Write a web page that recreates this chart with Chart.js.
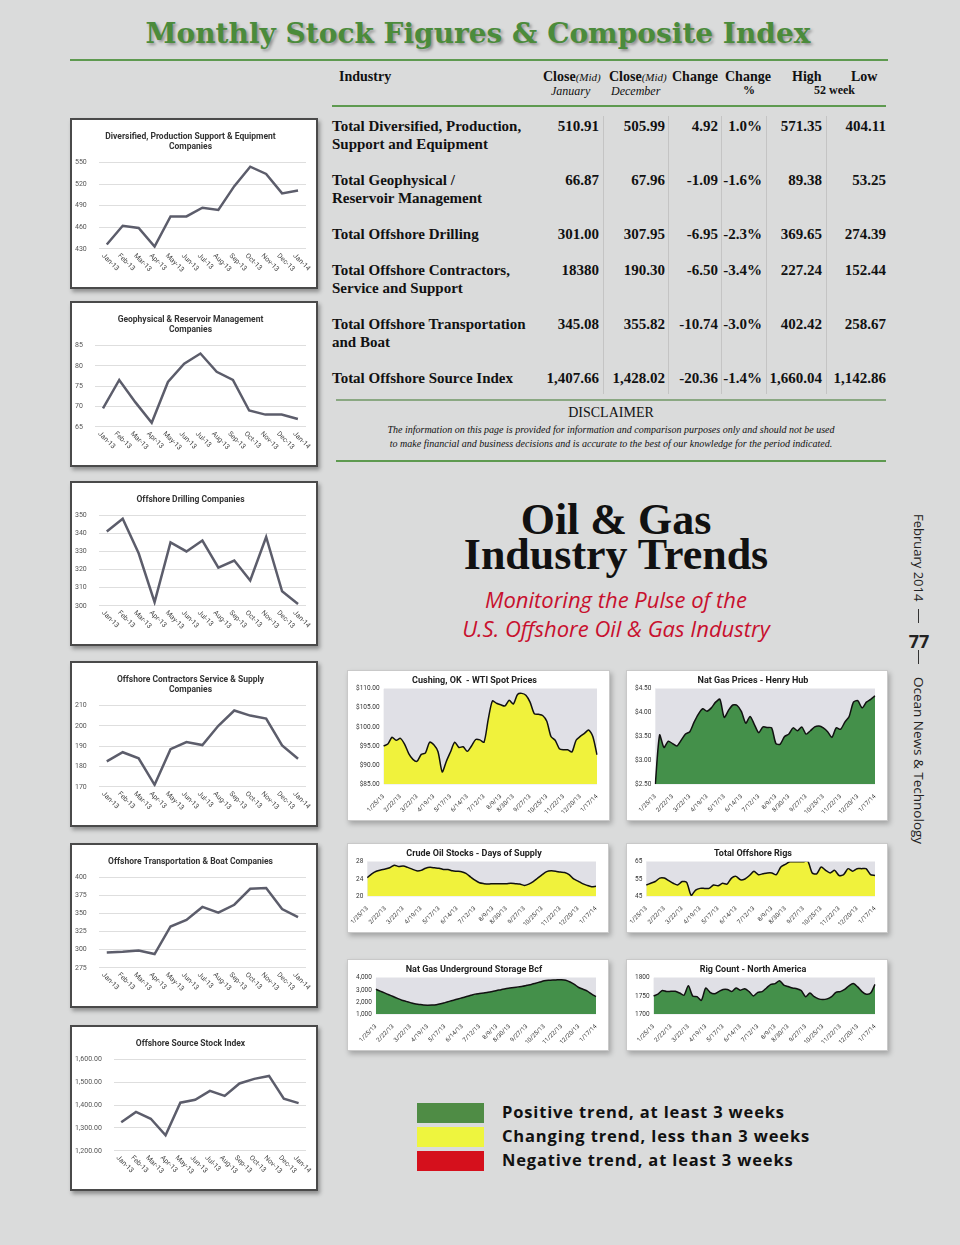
<!DOCTYPE html>
<html>
<head>
<meta charset="utf-8">
<script src="https://cdn.jsdelivr.net/npm/chart.js@4.4.0/dist/chart.umd.min.js"></script>
<style>
  body { margin: 0; width: 960px; height: 1245px; background: #dadbdb; position: relative; overflow: hidden; font-family: 'Liberation Serif', serif; color: #111; }
  .abs { position: absolute; white-space: nowrap; }
  .box { position: absolute; background: #fff; box-sizing: border-box; }
  .left { border: 2px solid #4a4a4a; box-shadow: 2px 3px 4px rgba(0,0,0,.35); }
  .right { border: 1px solid #c9c9c9; box-shadow: 2px 3px 5px rgba(0,0,0,.25); }
  .hline { position: absolute; height: 2px; background: #5e9a50; }
  .vsep { position: absolute; width: 1px; background: #c4c4c4; top: 116px; height: 278px; }
  .rowlbl { position: absolute; left: 332px; font-weight: bold; font-size: 15px; line-height: 18px; }
  .num { position: absolute; font-weight: bold; font-size: 15px; line-height: 18px; text-align: right; }
  .hdr { position: absolute; font-weight: bold; font-size: 14px; }
  .sub { position: absolute; font-style: italic; font-size: 12px; }
  .legsw { position: absolute; left: 417px; width: 67px; height: 20px; }
  .legtx { position: absolute; left: 502px; font-family: 'Open Sans', sans-serif; font-weight: bold; font-size: 16.5px; letter-spacing: 0.85px; color: #111; }
</style>
</head>
<body>

<div class="abs" style="left:0;width:956px;top:17px;text-align:center;font-family:'DejaVu Serif',serif;font-weight:bold;font-size:28px;color:#4b8b3b;text-shadow:2px 2px 3px rgba(0,0,0,.35);">Monthly Stock Figures &amp; Composite Index</div>
<div class="hline" style="left:70px;top:59px;width:818px;"></div>

<div id="table"></div>

<div class="hline" style="left:332px;top:105px;width:554px;"></div>
<div class="hline" style="left:336px;top:399px;width:550px;background:#8aa882;"></div>
<div class="abs" style="left:336px;width:550px;top:405px;text-align:center;font-size:14px;">DISCLAIMER</div>
<div class="abs" style="left:336px;width:550px;top:423px;text-align:center;font-size:10px;font-style:italic;line-height:14px;">The information on this page is provided for information and comparison purposes only and should not be used<br>to make financial and business decisions and is accurate to the best of our knowledge for the period indicated.</div>
<div class="hline" style="left:336px;top:460px;width:550px;"></div>

<div class="abs" style="left:436px;width:360px;top:502px;text-align:center;font-family:'Liberation Serif',serif;font-weight:bold;font-size:44px;line-height:35px;color:#111;">Oil &amp; Gas<br>Industry Trends</div>
<div class="abs" style="left:416px;width:400px;top:585px;text-align:center;font-family:'Open Sans',sans-serif;font-style:italic;font-size:22px;line-height:29px;color:#c8102e;">Monitoring the Pulse of the<br>U.S. Offshore Oil &amp; Gas Industry</div>

<div class="abs" style="left:910px;top:514px;writing-mode:vertical-rl;font-family:'Open Sans',sans-serif;font-size:13px;color:#222;">February 2014</div>
<div class="abs" style="left:918px;top:609px;width:1px;height:14px;background:#333;"></div>
<div class="abs" style="left:906px;top:629px;width:26px;text-align:center;font-family:'Open Sans',sans-serif;font-weight:bold;font-size:18px;color:#222;">77</div>
<div class="abs" style="left:918px;top:650px;width:1px;height:14px;background:#333;"></div>
<div class="abs" style="left:910px;top:677px;writing-mode:vertical-rl;font-family:'Open Sans',sans-serif;font-size:13.5px;color:#222;">Ocean News &amp; Technology</div>

<div class="legsw" style="top:1103px;background:#4f8c45;"></div>
<div class="legsw" style="top:1127px;background:#eef53e;"></div>
<div class="legsw" style="top:1151px;background:#d5101c;"></div>
<div class="legtx" style="top:1100px;">Positive trend, at least 3 weeks</div>
<div class="legtx" style="top:1124px;">Changing trend, less than 3 weeks</div>
<div class="legtx" style="top:1148px;">Negative trend, at least 3 weeks</div>

<div id="charts"></div>

<script>
// ---- table data ----
var industries = [
    ['Total Diversified, Production,', 'Support and Equipment'],
    ['Total Geophysical /', 'Reservoir Management'],
    ['Total Offshore Drilling'],
    ['Total Offshore Contractors,', 'Service and Support'],
    ['Total Offshore Transportation', 'and Boat'],
    ['Total Offshore Source Index']
];
var closeJan = ['510.91', '66.87', '301.00', '18380', '345.08', '1,407.66'];
var closeDec = ['505.99', '67.96', '307.95', '190.30', '355.82', '1,428.02'];
var changeAbs = ['4.92', '-1.09', '-6.95', '-6.50', '-10.74', '-20.36'];
var changePct = ['1.0%', '-1.6%', '-2.3%', '-3.4%', '-3.0%', '-1.4%'];
var high52 = ['571.35', '89.38', '369.65', '227.24', '402.42', '1,660.04'];
var low52 = ['404.11', '53.25', '274.39', '152.44', '258.67', '1,142.86'];

// ---- monthly stock charts ----
var months = ['Jan-13', 'Feb-13', 'Mar-13', 'Apr-13', 'May-13', 'Jun-13', 'Jul-13', 'Aug-13', 'Sep-13', 'Oct-13', 'Nov-13', 'Dec-13', 'Jan-14'];
var diversified = [436, 462, 459, 433, 475, 475, 487, 484, 517, 544, 534, 507, 511];
var geophysical = [69.5, 76.5, 71, 66, 76, 80.5, 83, 78.5, 76.5, 69, 68, 68, 66.9];
var drilling = [341, 348, 329, 302, 335, 330, 336, 321, 325, 314, 338, 308, 301];
var contractors = [182.5, 187, 184, 171, 188.5, 192, 190.5, 200, 207.5, 205, 203.5, 190.3, 183.8];
var transport = [296, 297, 299, 294, 332, 341, 359, 351, 362, 384, 385, 356, 345];
var sourceIndex = [1325, 1370, 1340, 1268, 1410, 1423, 1462, 1440, 1494, 1514, 1527, 1428, 1408];

// ---- weekly trend charts ----
var weeks = ['1/25/13', '2/1/13', '2/8/13', '2/15/13', '2/22/13', '3/1/13', '3/8/13', '3/15/13', '3/22/13', '3/29/13',
    '4/5/13', '4/12/13', '4/19/13', '4/26/13', '5/3/13', '5/10/13', '5/17/13', '5/24/13', '5/31/13', '6/7/13',
    '6/14/13', '6/21/13', '6/28/13', '7/5/13', '7/12/13', '7/19/13', '7/26/13', '8/2/13', '8/9/13', '8/16/13',
    '8/23/13', '8/30/13', '9/6/13', '9/13/13', '9/20/13', '9/27/13', '10/4/13', '10/11/13', '10/18/13', '10/25/13',
    '11/1/13', '11/8/13', '11/15/13', '11/22/13', '11/29/13', '12/6/13', '12/13/13', '12/20/13', '12/27/13', '1/3/14',
    '1/10/14', '1/17/14'];
var weekTicks = ['1/25/13', '2/22/13', '3/22/13', '4/19/13', '5/17/13', '6/14/13', '7/12/13', '8/9/13', '8/30/13',
    '9/27/13', '10/25/13', '11/22/13', '12/20/13', '1/17/14'];

var wti = [95, 95.5, 97.3, 96.5, 97, 95.5, 93, 91.5, 91, 92.8, 93.2, 96, 95.3, 93.5, 88.2, 91, 93.5, 96, 94.6, 94.8,
    93.6, 95, 96.7, 96.6, 96, 102, 106.8, 106.2, 105.8, 105.5, 107, 106, 108.5, 108.8, 108.3, 106.5, 103.5, 103.3, 103, 101.5,
    97.5, 96.5, 94.3, 94, 94, 93.4, 96.5, 97.5, 98.3, 99.2, 97.5, 92.7];
var henryHub = [2.5, 3.53, 3.27, 3.4, 3.35, 3.3, 3.42, 3.55, 3.6, 3.8, 3.97, 4.08, 4.03, 4.1, 4.22, 4.28, 3.9, 4.05, 4.16, 4.15,
    4.02, 3.78, 3.92, 3.75, 3.58, 3.7, 3.69, 3.68, 3.35, 3.34, 3.5, 3.55, 3.68, 3.62, 3.7, 3.55, 3.62, 3.7, 3.72, 3.68,
    3.6, 3.48, 3.68, 3.65, 3.8, 3.92, 4.22, 4.25, 4.1, 4.22, 4.28, 4.35];
var crudeDays = [24.3, 25.2, 25.8, 26.1, 26.3, 26.6, 27.2, 26.9, 27, 26.7, 26.3, 25.9, 26, 26.5, 26.7, 26.6, 26.5, 26.2, 26.2, 25.9,
    25.8, 25.7, 25.3, 24.5, 23.7, 23.1, 22.9, 22.8, 22.9, 22.9, 22.9, 22.9, 23, 22.9, 22.8, 22.5, 22.8, 23.4, 24.2, 25,
    25.7, 25.9, 25.8, 25.6, 25.5, 25, 24, 23.5, 22.9, 22.5, 22.2, 22.3];
var offshoreRigs = [51.5, 52.5, 53.5, 55.5, 55.5, 54, 52.5, 51.5, 53.5, 53, 45.5, 48.5, 49.5, 49.5, 49.5, 51.5, 51, 52.5, 52, 55.5,
    56.5, 54.5, 55, 57, 59.5, 57.5, 58, 58.5, 58.5, 57.5, 62, 63.5, 65, 65.2, 65.2, 65, 65.5, 58.5, 58, 62,
    60, 58.5, 60, 57, 57.5, 61, 59.5, 61, 61, 61, 57.5, 57];
var gasStorage = [3050, 2900, 2750, 2600, 2450, 2300, 2150, 2050, 1950, 1850, 1800, 1750, 1740, 1750, 1780, 1850, 1950, 2050, 2150, 2250,
    2350, 2450, 2550, 2650, 2700, 2750, 2800, 2870, 2950, 3020, 3100, 3150, 3200, 3250, 3300, 3380, 3450, 3550, 3650, 3750,
    3800, 3820, 3830, 3840, 3800, 3650, 3450, 3200, 3050, 2900, 2650, 2450];
var rigCountNA = [1750, 1755, 1765, 1762, 1763, 1763, 1758, 1752, 1778, 1750, 1748, 1738, 1772, 1760, 1756, 1762, 1768, 1768, 1762, 1772,
    1766, 1770, 1762, 1750, 1760, 1762, 1772, 1782, 1784, 1792, 1780, 1776, 1772, 1770, 1765, 1748, 1758, 1748, 1742, 1740,
    1742, 1748, 1760, 1762, 1768, 1778, 1784, 1775, 1762, 1755, 1758, 1782];

var YELLOW = '#f0f23c';
var GREEN = '#44904a';

// ---- table ----
function buildTable() {
    var t = document.getElementById('table');
    var html = '';
    html += '<div class="hdr" style="left:339px;top:69px;">Industry</div>';
    html += '<div class="hdr" style="left:543px;top:69px;">Close<span style="font-weight:normal;font-style:italic;font-size:11px;">(Mid)</span></div>';
    html += '<div class="hdr" style="left:609px;top:69px;">Close<span style="font-weight:normal;font-style:italic;font-size:11px;">(Mid)</span></div>';
    html += '<div class="hdr" style="left:672px;top:69px;">Change</div>';
    html += '<div class="hdr" style="left:725px;top:69px;">Change</div>';
    html += '<div class="hdr" style="left:792px;top:69px;">High</div>';
    html += '<div class="hdr" style="left:851px;top:69px;">Low</div>';
    html += '<div class="sub" style="left:551px;top:84px;">January</div>';
    html += '<div class="sub" style="left:611px;top:84px;">December</div>';
    html += '<div class="hdr" style="left:743px;top:83px;font-size:12px;">%</div>';
    html += '<div class="hdr" style="left:814px;top:83px;font-size:12px;">52 week</div>';

    var tops = [117, 171, 225, 261, 315, 369];
    var rights = [599, 665, 718, 762, 822, 886];
    var cols = [closeJan, closeDec, changeAbs, changePct, high52, low52];
    industries.forEach(function(lines, i) {
        html += '<div class="rowlbl" style="top:' + tops[i] + 'px;">' + lines.join('<br>') + '</div>';
        cols.forEach(function(col, c) {
            html += '<div class="num" style="top:' + tops[i] + 'px;left:' + (rights[c] - 80) + 'px;width:80px;">' + col[i] + '</div>';
        });
    });
    [603, 668, 721, 766, 826].forEach(function(x) {
        html += '<div class="vsep" style="left:' + x + 'px;"></div>';
    });
    t.innerHTML = html;
}
buildTable();

// ---- plugins ----
// Month labels slanting down to the right, placed on the category scale's tick positions
var slantLabels = {
    id: 'slantLabels',
    afterDraw: function(chart, args, opts) {
        if (!opts.on) return;
        var sc = chart.scales.x;
        var ctx = chart.ctx;
        ctx.save();
        ctx.font = opts.font;
        ctx.fillStyle = opts.color;
        ctx.textAlign = 'left';
        ctx.textBaseline = 'middle';
        sc.ticks.forEach(function(t, i) {
            var x = sc.getPixelForTick(i);
            ctx.save();
            ctx.translate(x - 4, sc.top + 6);
            ctx.rotate(Math.PI / 4);
            ctx.fillText(chart.data.labels[t.value], 0, 0);
            ctx.restore();
        });
        ctx.restore();
    }
};
var plotBg = {
    id: 'plotBg',
    beforeDatasetsDraw: function(chart, args, opts) {
        if (!opts.color) return;
        var a = chart.chartArea;
        chart.ctx.save();
        chart.ctx.fillStyle = opts.color;
        chart.ctx.fillRect(a.left, a.top, a.right - a.left, a.bottom - a.top);
        chart.ctx.restore();
    }
};
Chart.register(slantLabels, plotBg);

function makeBox(cls, x, y, w, h) {
    var d = document.createElement('div');
    d.className = 'box ' + cls;
    d.style.left = x + 'px';
    d.style.top = y + 'px';
    d.style.width = w + 'px';
    d.style.height = h + 'px';
    var c = document.createElement('canvas');
    d.appendChild(c);
    document.getElementById('charts').appendChild(d);
    return c;
}

function monthChart(box, title, values, min, max, step, fmt) {
    var cv = makeBox('left', box[0], box[1], box[2], box[3]);
    new Chart(cv, {
        type: 'line',
        data: {
            labels: months,
            datasets: [{ data: values, borderColor: '#5c5d6b', borderWidth: 2.5, pointRadius: 0, tension: 0 }]
        },
        options: {
            responsive: true, maintainAspectRatio: false, animation: false,
            layout: { padding: { left: 3, right: 10, top: 12, bottom: 4 } },
            plugins: {
                legend: { display: false }, tooltip: { enabled: false },
                title: { display: true, text: title, color: '#333', font: { family: 'Roboto', weight: 'bold', size: 8.5 }, padding: { top: 0, bottom: 10 }, fullSize: true },
                slantLabels: { on: true, font: '7px Roboto', color: '#444' }
            },
            scales: {
                x: {
                    offset: true,
                    grid: { display: false }, border: { display: false },
                    ticks: { color: 'rgba(0,0,0,0)', font: { family: 'Roboto', size: 7 }, minRotation: 45, maxRotation: 45, autoSkip: false, padding: 2 }
                },
                y: {
                    min: min, max: max,
                    grid: { color: '#dedede', drawTicks: false }, border: { display: false },
                    ticks: { stepSize: step, color: '#555', font: { family: 'Roboto', size: 7 }, crossAlign: 'far', padding: 6, callback: fmt }
                }
            }
        }
    });
}

function weekChart(box, title, values, fill, min, max, step, fmt) {
    var cv = makeBox('right', box[0], box[1], box[2], box[3]);
    new Chart(cv, {
        type: 'line',
        data: {
            labels: weeks,
            datasets: [{ data: values, borderColor: '#111', borderWidth: 1.5, backgroundColor: fill, fill: 'start', pointRadius: 0, tension: 0.25 }]
        },
        options: {
            responsive: true, maintainAspectRatio: false, animation: false,
            layout: { padding: { left: 4, right: 12, top: 4, bottom: 3 } },
            plugins: {
                legend: { display: false }, tooltip: { enabled: false },
                title: { display: true, text: title, color: '#222', font: { family: 'Roboto', weight: 'bold', size: 9 }, padding: { top: 0, bottom: 3 } },
                plotBg: { color: '#e0e0e6' }
            },
            scales: {
                x: {
                    offset: false,
                    grid: { display: false }, border: { display: false },
                    ticks: {
                        autoSkip: false, minRotation: 45, maxRotation: 45, padding: 1, color: '#333',
                        font: { family: 'Roboto', size: 6 },
                        callback: function(v) { var l = weeks[v]; return weekTicks.indexOf(l) >= 0 ? l : ''; }
                    }
                },
                y: {
                    min: min, max: max,
                    grid: { color: '#f4f4f6', drawTicks: false }, border: { display: false },
                    ticks: { stepSize: step, color: '#333', font: { family: 'Roboto', size: 6.5 }, padding: 4, callback: fmt }
                }
            }
        }
    });
}

function plain(v) { return v; }
function comma(v) { return v.toLocaleString('en-US'); }
function comma2(v) { return v.toLocaleString('en-US', { minimumFractionDigits: 2, maximumFractionDigits: 2 }); }
function dollars(v) { return '$' + v.toFixed(2); }

monthChart([70, 118, 248, 171], ['Diversified, Production Support & Equipment', 'Companies'], diversified, 430, 550, 30, plain);
monthChart([70, 301, 248, 166], ['Geophysical & Reservoir Management', 'Companies'], geophysical, 65, 85, 5, plain);
monthChart([70, 481, 248, 165], 'Offshore Drilling Companies', drilling, 300, 350, 10, plain);
monthChart([70, 661, 248, 166], ['Offshore Contractors Service & Supply', 'Companies'], contractors, 170, 210, 10, plain);
monthChart([70, 843, 248, 165], 'Offshore Transportation & Boat Companies', transport, 275, 400, 25, plain);
monthChart([70, 1025, 248, 166], 'Offshore Source Stock Index', sourceIndex, 1200, 1600, 100, comma2);

weekChart([347, 670, 263, 151], 'Cushing, OK  - WTI Spot Prices', wti, YELLOW, 85, 110, 5, dollars);
weekChart([626, 670, 262, 151], 'Nat Gas Prices - Henry Hub', henryHub, GREEN, 2.5, 4.5, 0.5, dollars);
weekChart([347, 843, 262, 90], 'Crude Oil Stocks - Days of Supply', crudeDays, YELLOW, 20, 28, 2, plain);
weekChart([626, 843, 262, 90], 'Total Offshore Rigs', offshoreRigs, YELLOW, 45, 65, 10, plain);
weekChart([347, 959, 262, 92], 'Nat Gas Underground Storage Bcf', gasStorage, GREEN, 1000, 4000, 1000, comma);
weekChart([626, 959, 262, 92], 'Rig Count - North America', rigCountNA, GREEN, 1700, 1800, 50, plain);
</script>
</body>
</html>
